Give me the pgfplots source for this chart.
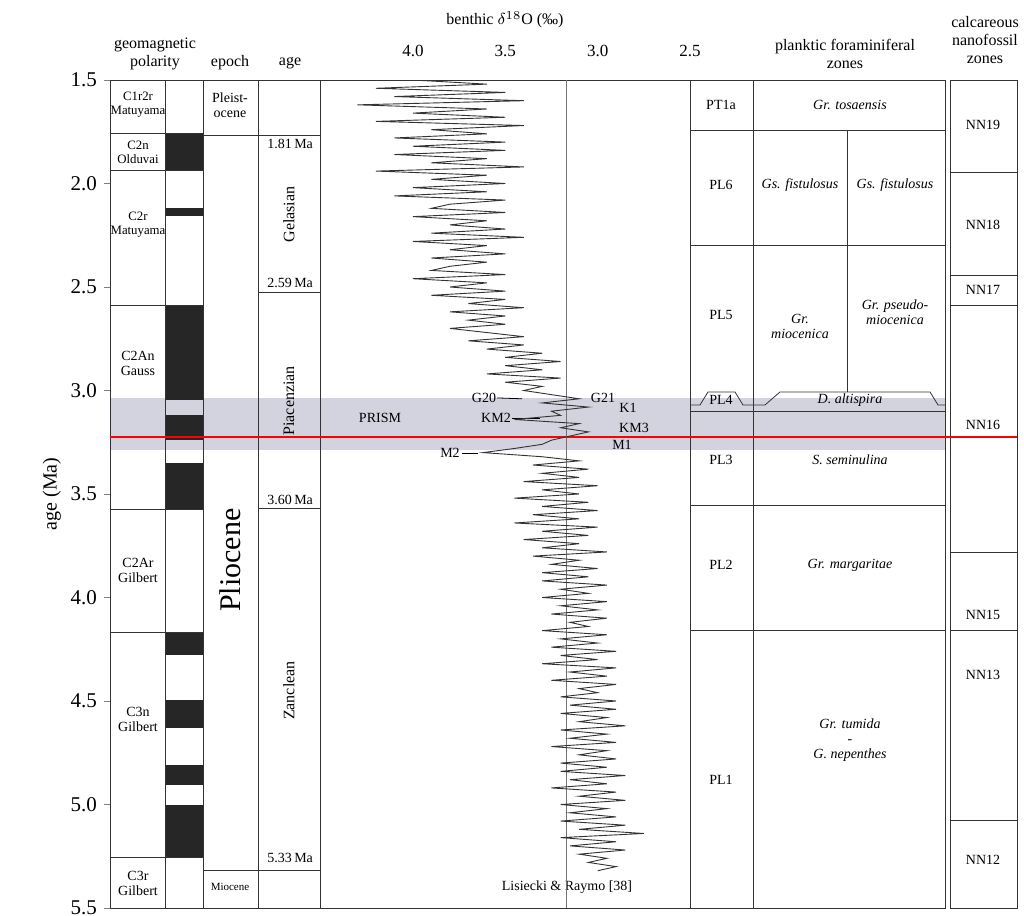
\documentclass[border=0pt]{standalone}
\usepackage{pgfplots}
\pgfplotsset{compat=1.18}
\usepackage{fontspec}
\setmainfont{Liberation Serif}
\newcommand{\fs}{\fontsize{7}{7.5}\selectfont}
\newcommand{\fp}{\fontsize{6.4}{7}\selectfont}
\newcommand{\ft}{\fontsize{8}{9}\selectfont}
\begin{document}
\begin{tikzpicture}
\begin{axis}[at={(0,0)},anchor=south west,scale only axis,width=453.5pt,height=414pt,
 xmin=110,xmax=1017,ymin=1.5,ymax=5.5,y dir=reverse,clip=false,
 axis x line=none, axis y line*=left, ytick={1.5,2,...,5.5},
 yticklabel style={font=\fontsize{10.5}{10.5}\selectfont,/pgf/number format/fixed,/pgf/number format/fixed zerofill,/pgf/number format/precision=1},
 /pgf/number format/assume math mode=true, tick align=outside, major tick length=3pt,
 ylabel={\fontsize{10}{10}\selectfont age (Ma)}, ylabel style={yshift=-2pt}]
\fill[blue!15!gray!30] (axis cs:110,3.036) rectangle (axis cs:945,3.287);
\fill[black!85] (axis cs:165,1.756) rectangle (axis cs:203,1.935);
\fill[black!85] (axis cs:165,2.118) rectangle (axis cs:203,2.157);
\fill[black!85] (axis cs:165,2.587) rectangle (axis cs:203,3.046);
\fill[black!85] (axis cs:165,3.118) rectangle (axis cs:203,3.239);
\fill[black!85] (axis cs:165,3.350) rectangle (axis cs:203,3.573);
\fill[black!85] (axis cs:165,4.167) rectangle (axis cs:203,4.278);
\fill[black!85] (axis cs:165,4.495) rectangle (axis cs:203,4.630);
\fill[black!85] (axis cs:165,4.809) rectangle (axis cs:203,4.906);
\fill[black!85] (axis cs:165,5.002) rectangle (axis cs:203,5.254);
\draw[black!80] (axis cs:110,1.5) rectangle (axis cs:945,5.5);
\draw[black!80] (axis cs:950,1.5) rectangle (axis cs:1017,5.5);
\pgfplotsinvokeforeach{165,203,258,320,690,753}{\draw[black!80] (axis cs:#1,1.5)--(axis cs:#1,5.5);}
\draw[black!80] (axis cs:847,1.742)--(axis cs:847,3.007);
\pgfplotsinvokeforeach{1.756,1.935,2.587,3.573,4.167,5.254}{\draw[black!80] (axis cs:110,#1)--(axis cs:203,#1);}
\draw[black!80] (axis cs:203,1.766)--(axis cs:258,1.766);
\draw[black!80] (axis cs:203,5.316)--(axis cs:258,5.316);
\pgfplotsinvokeforeach{1.766,2.524,3.568,5.316}{\draw[black!80] (axis cs:258,#1)--(axis cs:320,#1);}
\pgfplotsinvokeforeach{1.742,2.297,3.553,4.157}{\draw[black!80] (axis cs:690,#1)--(axis cs:945,#1);}
\draw[black!80] (axis cs:690,3.070)--(axis cs:700,3.070)--(axis cs:708,3.007)--(axis cs:735,3.007)--(axis cs:743,3.070)--(axis cs:765,3.070)--(axis cs:780,3.007)--(axis cs:930,3.007)--(axis cs:938,3.070)--(axis cs:945,3.070);
\draw[black!80] (axis cs:690,3.099)--(axis cs:945,3.099);
\pgfplotsinvokeforeach{1.944,2.442,2.587,3.780,4.157,5.075}{\draw[black!80] (axis cs:950,#1)--(axis cs:1017,#1);}
\draw[red,thick] (axis cs:110,3.225)--(axis cs:1017,3.225);
\node[font=\ft,align=center] at (axis cs:155,1.375) {geomagnetic\\polarity};
\node[font=\ft] at (axis cs:230,1.418) {epoch};
\node[font=\ft] at (axis cs:290,1.418) {age};
\node[font=\ft,align=center] at (axis cs:845,1.375) {planktic foraminiferal\\zones};
\node[font=\ft,align=center] at (axis cs:985,1.307) {calcareous\\nanofossil\\zones};
\node[font=\fp,align=center] at (axis cs:138,1.62) {C1r2r\\Matuyama};
\node[font=\fp,align=center] at (axis cs:138,1.85) {C2n\\Olduvai};
\node[font=\fp,align=center] at (axis cs:138,2.20) {C2r\\Matuyama};
\node[font=\fs,align=center] at (axis cs:138,2.87) {C2An\\Gauss};
\node[font=\fs,align=center] at (axis cs:138,3.87) {C2Ar\\Gilbert};
\node[font=\fs,align=center] at (axis cs:138,4.59) {C3n\\Gilbert};
\node[font=\fs,align=center] at (axis cs:138,5.38) {C3r\\Gilbert};
\node[font=\fs,align=center] at (axis cs:230,1.62) {Pleist-\\ocene};
\node[rotate=90,font=\fontsize{15}{15}\selectfont] at (axis cs:230,3.82) {Pliocene};
\node[font=\fontsize{5.5}{6}\selectfont] at (axis cs:230,5.40) {Miocene};
\node[font=\fs,anchor=east] at (axis cs:320,1.81) {1.81\,Ma};
\node[font=\fs,anchor=east] at (axis cs:320,2.48) {2.59\,Ma};
\node[font=\fs,anchor=east] at (axis cs:320,3.53) {3.60\,Ma};
\node[font=\fs,anchor=east] at (axis cs:320,5.26) {5.33\,Ma};
\node[font=\ft,rotate=90] at (axis cs:289,2.15) {Gelasian};
\node[font=\ft,rotate=90] at (axis cs:289,3.05) {Piacenzian};
\node[font=\ft,rotate=90] at (axis cs:289,4.45) {Zanclean};
\node[font=\fs] at (axis cs:721,1.621) {PT1a};
\node[font=\fs] at (axis cs:721,2.007) {PL6};
\node[font=\fs] at (axis cs:721,2.635) {PL5};
\node[font=\fs] at (axis cs:721,3.046) {PL4};
\node[font=\fs] at (axis cs:721,3.336) {PL3};
\node[font=\fs] at (axis cs:721,3.843) {PL2};
\node[font=\fs] at (axis cs:721,4.882) {PL1};
\node[font=\fs\itshape] at (axis cs:850,1.621) {Gr. tosaensis};
\node[font=\fs\itshape] at (axis cs:800,2.007) {Gs. fistulosus};
\node[font=\fs\itshape] at (axis cs:895,2.007) {Gs. fistulosus};
\node[font=\fs\itshape,align=center] at (axis cs:800,2.69) {Gr.\\miocenica};
\node[font=\fs\itshape,align=center] at (axis cs:895,2.62) {Gr. pseudo-\\miocenica};
\node[font=\fs\itshape] at (axis cs:850,3.046) {D. altispira};
\node[font=\fs\itshape] at (axis cs:850,3.336) {S. seminulina};
\node[font=\fs\itshape] at (axis cs:850,3.843) {Gr. margaritae};
\node[font=\fs\itshape,align=center] at (axis cs:850,4.69) {Gr. tumida\\-\\G. nepenthes};
\node[font=\fs] at (axis cs:983,1.717) {NN19};
\node[font=\fs] at (axis cs:983,2.20) {NN18};
\node[font=\fs] at (axis cs:983,2.514) {NN17};
\node[font=\fs] at (axis cs:983,3.167) {NN16};
\node[font=\fs] at (axis cs:983,4.085) {NN15};
\node[font=\fs] at (axis cs:983,4.374) {NN13};
\node[font=\fs] at (axis cs:983,5.268) {NN12};
\node[font=\fs] at (axis cs:380,3.133) {PRISM};
\node[font=\fs] at (axis cs:484,3.036) {G20}; \draw (axis cs:497,3.036)--(axis cs:522,3.04);
\node[font=\fs] at (axis cs:603,3.036) {G21};
\node[font=\fs] at (axis cs:628,3.085) {K1};
\node[font=\fs] at (axis cs:496,3.133) {KM2}; \draw (axis cs:512,3.133)--(axis cs:540,3.133);
\node[font=\fs] at (axis cs:634,3.181) {KM3};
\node[font=\fs] at (axis cs:622,3.263) {M1};
\node[font=\fs] at (axis cs:450,3.302) {M2}; \draw (axis cs:462,3.302)--(axis cs:478,3.302);
\node[font=\fs] at (axis cs:567,5.40) {Lisiecki \& Raymo [38]};
\node[font=\ft] at (axis cs:505,1.21) {benthic $\delta^{18}$O (‰)};
\coordinate (bbA) at (axis cs:0,1.1135);
\coordinate (bbB) at (axis cs:1024,5.5386);
\end{axis}
\begin{axis}[at={(105pt,0)},anchor=south west,scale only axis,width=185pt,height=414pt,
 xmin=2.5,xmax=4.503,x dir=reverse,ymin=1.5,ymax=5.5,y dir=reverse,
 axis line style={draw=none}, ytick=\empty, xtick={2.5,3,3.5,4}, xticklabel pos=top,
 xticklabel style={yshift=8pt,font=\fontsize{8.5}{8.5}\selectfont,/pgf/number format/fixed,/pgf/number format/fixed zerofill,/pgf/number format/precision=1},
 /pgf/number format/assume math mode=true, x tick style={draw=none}]
\addplot[black!55,thin] coordinates {(3.17,1.5)(3.17,5.5)};
\addplot[black!80,line width=0.45pt] table[x=d,y=t] {
t d
1.50 4.0
1.52 3.6
1.54 4.2
1.56 3.5
1.58 4.1
1.60 3.4
1.62 4.3
1.64 3.6
1.66 4.0
1.68 3.5
1.70 4.2
1.72 3.4
1.74 3.9
1.76 3.6
1.78 4.1
1.80 3.5
1.82 4.0
1.84 3.5
1.86 4.1
1.88 3.6
1.90 3.9
1.92 3.4
1.94 4.2
1.96 3.6
1.98 3.9
2.00 3.5
2.02 4.0
2.04 3.6
2.06 4.1
2.08 3.5
2.10 3.8
2.12 3.9
2.14 3.5
2.16 4.0
2.18 3.6
2.20 3.8
2.22 3.5
2.24 3.9
2.26 3.4
2.28 4.0
2.30 3.6
2.32 3.8
2.34 3.5
2.36 3.9
2.38 3.6
2.40 3.8
2.42 3.9
2.44 3.5
2.46 4.0
2.48 3.6
2.50 3.8
2.52 3.5
2.54 3.9
2.56 3.5
2.58 3.7
2.60 3.4
2.62 3.8
2.64 3.5
2.66 3.7
2.68 3.5
2.70 3.8
2.72 3.6
2.74 3.4
2.76 3.7
2.78 3.4
2.80 3.6
2.82 3.3
2.84 3.5
2.86 3.2
2.88 3.5
2.90 3.3
2.92 3.6
2.94 3.2
2.96 3.5
2.98 3.3
3.00 3.4
3.02 3.25
3.04 3.1
3.06 3.3
3.08 3.05
3.10 3.25
3.12 3.2
3.14 3.45
3.16 3.1
3.18 3.2
3.20 3.05
3.22 3.15
3.24 3.25
3.26 3.3
3.28 3.45
3.30 3.62
3.32 3.3
3.34 3.1
3.36 3.35
3.38 3.05
3.40 3.3
3.42 3.1
3.44 3.4
3.46 3.0
3.48 3.3
3.50 3.1
3.52 3.45
3.54 3.05
3.56 3.3
3.58 3.0
3.60 3.35
3.62 3.1
3.64 3.45
3.66 3.0
3.68 3.3
3.70 3.05
3.72 3.4
3.74 3.1
3.76 3.3
3.78 2.95
3.80 3.35
3.82 3.1
3.84 3.25
3.86 3.0
3.88 3.3
3.90 3.05
3.92 3.3
3.94 2.95
3.96 3.2
3.98 3.05
4.00 3.3
4.02 2.95
4.04 3.2
4.06 3.0
4.08 3.25
4.10 2.95
4.12 3.15
4.14 3.05
4.16 3.3
4.18 2.95
4.20 3.2
4.22 3.0
4.24 3.25
4.26 2.9
4.28 3.2
4.30 3.0
4.32 3.3
4.34 2.9
4.36 3.15
4.38 2.95
4.40 3.25
4.42 2.9
4.44 3.1
4.46 3.0
4.48 3.2
4.50 2.9
4.52 3.15
4.54 2.9
4.56 3.2
4.58 2.95
4.60 3.1
4.62 2.85
4.64 3.2
4.66 2.95
4.68 3.15
4.70 2.9
4.72 3.25
4.74 2.95
4.76 3.1
4.78 2.9
4.80 3.2
4.82 2.95
4.84 3.2
4.86 2.85
4.88 3.15
4.90 2.95
4.92 3.25
4.94 2.9
4.96 3.1
4.98 2.85
5.00 3.2
5.02 2.95
5.04 3.15
5.06 2.9
5.08 3.2
5.10 2.85
5.12 3.1
5.14 2.75
5.16 3.2
5.18 2.9
5.20 3.15
5.22 2.85
5.24 3.1
5.26 2.95
5.28 3.05
5.30 2.9
5.32 3.0
};
\end{axis}
\pgfresetboundingbox
\path (bbA) rectangle (bbB);
\end{tikzpicture}
\end{document}
